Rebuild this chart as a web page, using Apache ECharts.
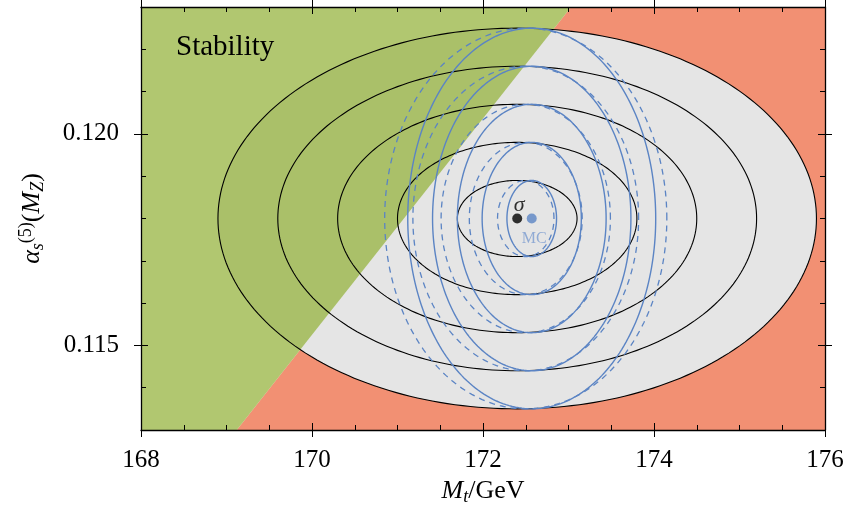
<!DOCTYPE html>
<html><head><meta charset="utf-8">
<script src="https://cdn.jsdelivr.net/npm/echarts@6/dist/echarts.min.js"></script>
<style>html,body{margin:0;padding:0;background:#fff}#c{width:847px;height:530px}</style>
</head><body><div id="c"></div>
<script>
// ---- axis ranges / ticks ----
const mtRange = [168, 176];
const asRange = [0.113, 0.123];
const mtTickStep = 2;
const asMajorRange = [0.110, 0.125];   // major tick labels 0.115, 0.120
const asMajorStep = 0.005;
const asMinorStep = 0.001;

// ---- stability boundary (line separating green / red) ----
const boundaryMt = [169.12, 173.03];
const boundaryAs = [0.113, 0.123];

// ---- central values ----
const sigmaPoint = [172.4, 0.118];
const mcPoint = [172.57, 0.118];
const mcDashCenter = [172.5, 0.118];

// ---- contour half-axes (Mt in GeV, alpha_s) ----
const sigmaHalfMt = [0.7, 1.4, 2.1, 2.8, 3.5];
const sigmaHalfAs = [0.0009, 0.0018, 0.0027, 0.0036, 0.0045];
const mcHalfMt = [0.29, 0.58, 0.87, 1.16, 1.45];
const mcHalfAs = [0.0009, 0.0018, 0.0027, 0.0036, 0.0045];
const mcDashHalfMt = [0.33, 0.66, 0.99, 1.32, 1.65];
const mcDashHalfAs = [0.0009, 0.0018, 0.0027, 0.0036, 0.0045];

// ---- styles ----
const GREEN = 'rgba(148,178,59,0.73)';
const RED = '#f29073';
const GRAY = '#e5e5e5';
const BLUE = '#5b84c4';
const FONT = 'Liberation Serif';

const el = document.getElementById('c');
const chart = echarts.init(el);
const W = chart.getWidth(), H = chart.getHeight();
const G = { left: 141, right: 22, top: 7, bottom: 100 };
const plotH = H - G.top - G.bottom;
const pxPerAs = plotH / (asRange[1] - asRange[0]);
const G2 = {
  left: G.left, right: G.right,
  top: G.top - (asMajorRange[1] - asRange[1]) * pxPerAs,
  height: (asMajorRange[1] - asMajorRange[0]) * pxPerAs
};

function ellipseData(c, hw, hh) {
  return hw.map((w, i) => [c[0], c[1], w, hh[i]]);
}
function ellipseRender(fill, stroke, lw, dash) {
  return function (params, api) {
    const cx = api.value(0), cy = api.value(1), rx = api.value(2), ry = api.value(3);
    const pts = [];
    const N = 240;
    for (let i = 0; i < N; i++) {
      const t = 2 * Math.PI * i / N;
      pts.push(api.coord([cx + rx * Math.cos(t), cy + ry * Math.sin(t)]));
    }
    return {
      type: 'polygon', shape: { points: pts },
      style: { fill: fill || 'none', stroke: stroke || 'none', lineWidth: lw || 0, lineDash: dash || null }
    };
  };
}
function regionRender(side) {
  return function (params, api) {
    const b0 = api.coord([api.value(0), api.value(1)]);
    const b1 = api.coord([api.value(2), api.value(3)]);
    let pts;
    if (side === 'red') {
      pts = [b0, api.coord([mtRange[1], asRange[0]]), api.coord([mtRange[1], asRange[1]]), b1];
    } else {
      pts = [api.coord([mtRange[0], asRange[0]]), b0, b1, api.coord([mtRange[0], asRange[1]])];
    }
    return { type: 'polygon', shape: { points: pts }, style: { fill: side === 'red' ? RED : GREEN, stroke: 'none' } };
  };
}
const regionData = [[boundaryMt[0], boundaryAs[0], boundaryMt[1], boundaryAs[1]]];

const labelFont = { fontFamily: FONT, fontSize: 25, color: '#000' };

function xAx(pos, inside, opts) {
  return Object.assign({
    type: 'value', gridIndex: 0, position: pos, min: mtRange[0], max: mtRange[1], interval: mtTickStep,
    z: 10,
    axisLine: { show: false, onZero: false },
    axisTick: { show: true, inside: inside, length: 7, lineStyle: { color: '#000', width: 1 } },
    axisLabel: { show: false },
    splitLine: { show: false }
  }, opts);
}
function yAx(grid, pos, inside, opts) {
  const major = grid === 1;
  return Object.assign({
    type: 'value', gridIndex: grid, position: pos,
    min: major ? asMajorRange[0] : asRange[0], max: major ? asMajorRange[1] : asRange[1],
    interval: major ? asMajorStep : asMinorStep,
    z: 10,
    axisLine: { show: false, onZero: false },
    axisTick: { show: true, inside: inside, length: major ? 7 : 5, lineStyle: { color: '#000', width: 1 } },
    axisLabel: { show: false },
    splitLine: { show: false }
  }, opts);
}

const option = {
  animation: false,
  backgroundColor: '#fff',
  grid: [
    { left: G.left, right: G.right, top: G.top, bottom: G.bottom, containLabel: false, outerBoundsMode: 'none' },
    { left: G2.left, right: G2.right, top: G2.top, height: G2.height, containLabel: false, outerBoundsMode: 'none' }
  ],
  xAxis: [
    xAx('bottom', true, {
      axisLine: { show: true, onZero: false, lineStyle: { color: '#000', width: 1.3 } },
      minorTick: { show: true, splitNumber: 4, length: 5, lineStyle: { color: '#000', width: 1 } },
      axisLabel: Object.assign({ show: true, margin: 18 }, labelFont),
      name: '{m|M}{t|t}{n|/GeV}',
      nameLocation: 'middle', nameGap: 35,
      nameTextStyle: {
        rich: {
          m: { fontFamily: FONT, fontStyle: 'italic', fontSize: 26, lineHeight: 30, verticalAlign: 'middle' },
          t: { fontFamily: FONT, fontStyle: 'italic', fontSize: 18, lineHeight: 14, verticalAlign: 'bottom' },
          n: { fontFamily: FONT, fontSize: 26, lineHeight: 30, verticalAlign: 'middle' }
        }
      }
    }),
    xAx('bottom', false, {}),
    xAx('top', true, {
      axisLine: { show: true, onZero: false, lineStyle: { color: '#000', width: 1.3 } },
      minorTick: { show: true, splitNumber: 4, length: 5, lineStyle: { color: '#000', width: 1 } }
    }),
    xAx('top', false, {}),
    { type: 'value', gridIndex: 1, show: false, min: mtRange[0], max: mtRange[1] }
  ],
  yAxis: [
    yAx(0, 'left', true, {
      axisLine: { show: true, onZero: false, lineStyle: { color: '#000', width: 1.3 } },
      name: '{a|α}{s|s}{p|(5)}{n|(}{m|M}{z|Z}{n|)}',
      nameLocation: 'middle', nameGap: 94,
      nameTextStyle: {
        rich: {
          a: { fontFamily: FONT, fontStyle: 'italic', fontSize: 26, lineHeight: 30, verticalAlign: 'middle' },
          s: { fontFamily: FONT, fontStyle: 'italic', fontSize: 18, lineHeight: 14, verticalAlign: 'bottom' },
          p: { fontFamily: FONT, fontSize: 18, lineHeight: 14, verticalAlign: 'top' },
          n: { fontFamily: FONT, fontSize: 26, lineHeight: 30, verticalAlign: 'middle' },
          m: { fontFamily: FONT, fontStyle: 'italic', fontSize: 26, lineHeight: 30, verticalAlign: 'middle' },
          z: { fontFamily: FONT, fontStyle: 'italic', fontSize: 18, lineHeight: 14, verticalAlign: 'bottom' }
        }
      }
    }),
    yAx(0, 'right', true, {
      axisLine: { show: true, onZero: false, lineStyle: { color: '#000', width: 1.3 } }
    }),
    yAx(1, 'left', false, {
      axisLabel: Object.assign({ show: true, margin: 22, formatter: v => v.toFixed(3) }, labelFont)
    }),
    yAx(1, 'left', true, {}),
    yAx(1, 'right', false, {}),
    yAx(1, 'right', true, {})
  ],
  graphic: [{
    type: 'text', left: 176, top: 33, z: 20,
    style: { text: 'Stability', fontFamily: FONT, fontSize: 29, fill: '#000' }
  }],
  series: [
    { type: 'custom', name: 'unstable', xAxisIndex: 0, yAxisIndex: 0, data: regionData, renderItem: regionRender('red'), silent: true, z: 2 },
    { type: 'custom', name: 'fill', xAxisIndex: 0, yAxisIndex: 0,
      data: ellipseData(sigmaPoint, sigmaHalfMt, sigmaHalfAs).slice(-1),
      renderItem: ellipseRender(GRAY, null, 0), silent: true, z: 2 },
    { type: 'custom', name: 'stable', xAxisIndex: 0, yAxisIndex: 0, data: regionData, renderItem: regionRender('green'), silent: true, z: 2 },
    { type: 'custom', name: 'sigma', xAxisIndex: 0, yAxisIndex: 0,
      data: ellipseData(sigmaPoint, sigmaHalfMt, sigmaHalfAs),
      renderItem: ellipseRender(null, '#000', 1.1), silent: true, z: 2 },
    { type: 'custom', name: 'MC dashed', xAxisIndex: 0, yAxisIndex: 0,
      data: ellipseData(mcDashCenter, mcDashHalfMt, mcDashHalfAs),
      renderItem: ellipseRender(null, BLUE, 1.3, [6, 5]), silent: true, z: 2 },
    { type: 'custom', name: 'MC', xAxisIndex: 0, yAxisIndex: 0,
      data: ellipseData(mcPoint, mcHalfMt, mcHalfAs),
      renderItem: ellipseRender(null, BLUE, 1.4), silent: true, z: 2 },
    { type: 'scatter', name: 'sigma point', xAxisIndex: 0, yAxisIndex: 0, data: [sigmaPoint],
      symbolSize: 10, itemStyle: { color: '#000' }, z: 3,
      label: { show: true, formatter: 'σ', position: 'top', distance: 0, offset: [2, 3],
        fontFamily: FONT, fontStyle: 'italic', fontSize: 22, color: '#000' } },
    { type: 'scatter', name: 'MC point', xAxisIndex: 0, yAxisIndex: 0, data: [mcPoint],
      symbolSize: 10, itemStyle: { color: BLUE }, z: 3,
      label: { show: true, formatter: 'MC', position: 'bottom', distance: 7, offset: [2.5, 0],
        fontFamily: FONT, fontSize: 16, color: '#7b9bd0' } }
  ]
};
chart.setOption(option);
</script></body></html>
